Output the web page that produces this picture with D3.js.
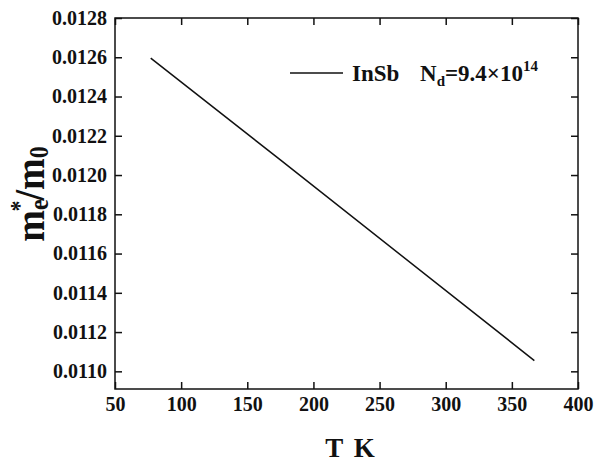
<!DOCTYPE html>
<html lang="en">
<head>
    <meta charset="UTF-8">
    <title>InSb effective mass vs temperature</title>
    <script src="https://d3js.org/d3.v7.min.js"></script>
    <style>
        body {
            margin: 0;
            background: white;
        }
        svg text {
            font-family: "Liberation Serif", "Times New Roman", serif;
            font-weight: bold;
            fill: #111;
        }
    </style>
</head>
<body>
    <svg id="chart" width="594" height="462"></svg>

    <script>
        // data
        const temps = [77, 175, 367];
        const massRatio = [0.012596, 0.012077, 0.011055];
        const xTicks = [50, 100, 150, 200, 250, 300, 350, 400];
        const yTicks = [0.0110, 0.0112, 0.0114, 0.0116, 0.0118, 0.0120, 0.0122, 0.0124, 0.0126, 0.0128];
        const xDomain = [50, 400];
        const yDomain = [0.01091, 0.0128];

        const width = 594,
              height = 462,
              margin = {top: 18, right: 16, bottom: 73, left: 115};

        const svg = d3.select("#chart");

        const x = d3.scaleLinear()
                    .domain(xDomain)
                    .range([margin.left, width - margin.right]);

        const y = d3.scaleLinear()
                    .domain(yDomain)
                    .range([height - margin.bottom, margin.top]);

        const xMinor = d3.range(75, 400, 50);
        const yMinor = d3.range(0.0109, 0.01285, 0.0002).filter(v => v > yDomain[0] && v < yDomain[1]);

        // inward ticks on all four sides
        function tickAxis(axisFn, scale, major, minor, pos, labels) {
            const g = svg.append("g").attr("transform", pos);
            g.call(axisFn(scale).tickValues(minor).tickSize(-4).tickFormat(""));
            g.call(axisFn(scale).tickValues(major).tickSize(-7).tickPadding(8)
                .tickFormat(labels ? labels : ""));
            g.attr("font-family", null);
            g.selectAll(".domain").remove();
            g.selectAll("line").attr("stroke", "#111").attr("stroke-width", 1.5);
            g.selectAll("text")
             .style("font-family", "'Liberation Serif', 'Times New Roman', serif")
             .style("font-weight", "bold")
             .style("font-size", "20px")
             .attr("fill", "#111");
            return g;
        }

        tickAxis(d3.axisBottom, x, xTicks, xMinor, `translate(0,${height - margin.bottom})`, d3.format("d"));
        tickAxis(d3.axisTop, x, xTicks, xMinor, `translate(0,${margin.top})`, null);
        tickAxis(d3.axisLeft, y, yTicks, yMinor, `translate(${margin.left},0)`, d3.format(".4f"));
        tickAxis(d3.axisRight, y, yTicks, yMinor, `translate(${width - margin.right},0)`, null);

        // frame
        svg.append("rect")
           .attr("x", margin.left)
           .attr("y", margin.top)
           .attr("width", width - margin.left - margin.right)
           .attr("height", height - margin.top - margin.bottom)
           .attr("fill", "none")
           .attr("stroke", "#111")
           .attr("stroke-width", 1.5);

        // curve
        const line = d3.line()
                       .x((d, i) => x(temps[i]))
                       .y(d => y(d));

        svg.append("path")
           .datum(massRatio)
           .attr("d", line)
           .attr("fill", "none")
           .attr("stroke", "#111")
           .attr("stroke-width", 1.5);

        // legend
        svg.append("line")
           .attr("x1", 290).attr("x2", 343)
           .attr("y1", 73).attr("y2", 73)
           .attr("stroke", "#111")
           .attr("stroke-width", 1.5);

        const leg = svg.append("text")
                       .attr("x", 352)
                       .attr("y", 81)
                       .style("font-size", "23px");
        leg.append("tspan").text("InSb");
        leg.append("tspan").attr("x", 420).text("N");
        leg.append("tspan").attr("dy", 5).style("font-size", "15px").text("d");
        leg.append("tspan").attr("dy", -5).text("=9.4×10");
        leg.append("tspan").attr("dy", -10).style("font-size", "15px").text("14");

        // axis titles
        svg.append("text")
           .attr("x", 350)
           .attr("y", 457)
           .attr("text-anchor", "middle")
           .style("font-size", "27px")
           .style("word-spacing", "4px")
           .text("T K");

        const yl = svg.append("text")
                      .attr("transform", "translate(44,194) rotate(-90) scale(1,1.12)")
                      .attr("text-anchor", "middle")
                      .style("font-size", "38px");
        yl.append("tspan").text("m");
        yl.append("tspan").attr("dy", 4).style("font-size", "24px").text("e");
        yl.append("tspan").attr("dx", -12).attr("dy", -18).style("font-size", "22px").text("*");
        yl.append("tspan").attr("dy", 14).text("/m");
        yl.append("tspan").attr("dy", 4).style("font-size", "24px").text("0");
    </script>
</body>
</html>
